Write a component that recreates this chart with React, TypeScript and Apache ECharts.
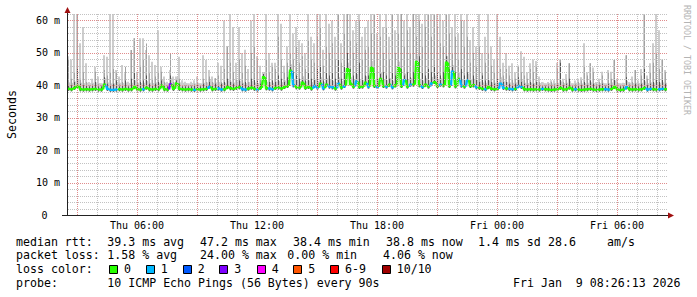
import React, { useEffect, useRef } from "react";
import * as echarts from "echarts";

// time axis in minutes after Thu 00:00
const T_START = 150;
const T_END = 1950;
const STEP = 9;
const Y_MAX = 62;

const xLabelMinutes = [360, 720, 1080, 1440, 1800];
const xLabelTexts = ["Thu 06:00", "Thu 12:00", "Thu 18:00", "Fri 00:00", "Fri 06:00"];
const yLabelValues = [0, 10, 20, 30, 40, 50, 60];
const yLabelTexts = ["0", "10 m", "20 m", "30 m", "40 m", "50 m", "60 m"];
// hour grid marks (minutes after Thu 00:00), every 3 h is a major mark
const hourMarks = [180, 240, 300, 360, 420, 480, 540, 600, 660, 720, 780, 840, 900, 960, 1020, 1080, 1140, 1200, 1260, 1320, 1380, 1440, 1500, 1560, 1620, 1680, 1740, 1800, 1860, 1920];

// top of the light smoke (ms)
const hiVals = [
  49, 48, 62, 62, 53, 58, 46.8, 41, 42, 45.7, 42.7, 40.6, 49.3, 48.8, 62, 62, 44.7, 42.7, 46.3, 43.7, 41.1, 50.9, 54.5, 44.2, 54.5, 54.5, 50.9, 49.3, 47.3, 46.3, 57, 45.7, 42.7, 41.1, 44.7, 42.7, 42.7, 48.8, 41.6, 41.1, 40.6, 41.1, 41.6, 42.7, 40.6, 49.3, 47.8, 44.7, 42.7, 42.2,
  47, 46, 60, 52, 62, 58, 47, 58, 50, 51, 45, 60, 62, 49, 46, 44, 62, 50, 47, 47, 62, 59, 46, 52, 62, 56, 58, 54, 53, 50, 62, 55, 53, 62, 62, 51, 62, 59, 60, 55, 62, 53, 62, 62, 62, 57, 60, 62, 55, 58,
  60, 62, 62, 56, 62, 58, 62, 55, 62, 57, 62, 62, 60, 62, 58, 62, 62, 62, 59, 62, 62, 62, 62, 62, 62, 60, 62, 62, 58, 62, 56, 62, 60, 62, 54, 58, 52, 62, 50, 55, 62, 52, 48, 62, 55, 47, 50, 46, 46.8, 44,
  46, 50.5, 48.8, 44, 46.8, 48, 47.5, 42.7, 41, 40.6, 41, 41.6, 41.6, 47, 48, 42, 43.5, 46.8, 40.6, 41.5, 42, 42.5, 53, 44, 46.8, 45.5, 41, 42, 44.2, 40.6, 44.7, 44.2, 47.8, 42, 40.6, 40.8, 49.3, 41, 42.7, 44.7, 41.5, 45, 62, 43, 46.8, 53, 62, 57, 48, 44.7,
];

// top of the medium smoke (ms)
const midVals = [
  47.8, 42, 44, 62, 42, 44, 41, 40, 40.5, 44.2, 40.5, 40, 44.7, 43, 44, 45, 44.2, 40.5, 41, 45.7, 40, 50.9, 54.5, 41, 46, 47.8, 52.9, 43.7, 42, 42.7, 44.2, 44.2, 41, 40, 49.9, 41, 41.6, 42, 40, 40, 40, 40, 40.5, 41, 40, 42, 41, 42.7, 41, 42.2,
  43, 41, 45, 52, 47, 44, 42, 48, 44, 46, 41, 50, 52, 48, 42, 43.5, 48, 44, 46, 45, 55, 48, 44, 47, 50, 48, 52, 47, 49, 45, 54, 48, 47, 55, 58, 46, 52, 50, 53, 48, 62, 47, 56, 62, 54, 50, 53, 60, 48, 51,
  52, 56, 62, 50, 55, 50, 58, 48, 62, 50, 56, 62, 52, 57, 50, 62, 55, 60, 52, 58, 62, 55, 62, 58, 53, 52, 62, 56, 50, 55, 48, 60, 52, 55, 47, 50, 46, 52, 44, 47, 50, 46, 44, 48, 45, 43, 45, 43, 42, 42,
  46, 44, 43, 42, 45, 44, 46, 41, 40, 40, 40.5, 41, 40.5, 45, 48, 41, 42, 46.8, 40, 40.5, 41, 41.5, 46, 43, 46.8, 44, 40.5, 41, 43, 40, 44, 42, 47.8, 41, 40, 40, 49.3, 40.5, 41, 44.7, 40.5, 43, 62, 42, 44, 47, 50, 45, 48, 44,
];

// top of the dark smoke (ms)
const darkVals = [
  40, 40, 41, 45, 40.5, 40, 39.8, 39.6, 39.8, 41, 39.6, 39.6, 42.5, 40.5, 40, 40.5, 41.5, 39.6, 40, 41.5, 39.6, 42, 44, 40, 41, 41.5, 43, 40.5, 40, 40.5, 41, 41.5, 40, 39.6, 43, 40, 41.5, 40.5, 39.6, 39.6, 39.6, 39.6, 40, 40, 39.6, 40.5, 40, 41, 40, 40.5,
  40, 40.5, 41, 42, 41, 40.5, 40, 41.5, 40.5, 41, 40, 42, 42, 41.5, 40.5, 43.5, 42, 41, 41.5, 41, 43, 42, 41, 42.5, 46, 44, 43, 42, 42, 41.5, 44, 42, 42, 45, 46, 41.5, 44, 43, 44, 42, 48, 42, 46, 50, 45, 43, 44, 47, 42, 43,
  43, 45, 44, 42, 43.5, 44, 43, 42, 44, 43, 46, 45, 43, 44, 42.5, 44, 45, 49, 44, 43, 45, 44, 46, 44, 43, 44, 49, 45, 46, 44, 42, 45, 43, 44, 41.5, 43, 42, 41, 43, 41.5, 42, 41, 40.5, 42, 40.5, 41, 41, 40.5, 40, 40.5,
  42.5, 41, 40.5, 40, 41, 40.5, 41, 39.8, 39.6, 39.6, 39.6, 39.8, 39.6, 40.5, 47, 40, 40.5, 42, 39.6, 39.6, 40, 40, 41, 40, 41.5, 40.5, 39.6, 40, 40.5, 39.6, 40.5, 40, 42, 39.8, 39.6, 39.6, 42.5, 39.6, 40, 40.5, 39.6, 40.5, 45, 40, 40.5, 41, 42, 41, 42, 40.5,
];

// median rtt (ms)
const medianVals = [
  38.9, 38.8, 39.2, 39.8, 38.8, 38.7, 38.8, 38.7, 38.8, 38.9, 38.7, 38.7, 40.2, 38.9, 38.6, 38.6, 38.7, 38.8, 38.7, 38.9, 38.7, 38.8, 39.5, 38.8, 38.7, 38.8, 39.3, 38.8, 38.7, 38.9, 38.8, 39.9, 38.8, 38.7, 40.3, 38.9, 40.6, 38.9, 38.8, 38.7, 38.8, 38.7, 38.6, 38.8, 38.7, 38.8, 38.9, 39.6, 38.8, 38.9,
  39, 38.7, 38.8, 39.5, 39.1, 38.9, 39.2, 39.4, 38.8, 38.7, 39, 39.3, 38.9, 38.7, 39.2, 42.5, 39.1, 39, 38.8, 39.2, 39.3, 39, 39.5, 39.8, 44.5, 40, 39.4, 39.3, 40.8, 39.2, 39.5, 39, 39.8, 39.3, 40.5, 39.1, 40.2, 39.6, 39.4, 39, 40.5, 39.3, 39.8, 45, 40.5, 39.6, 41.2, 39.5, 39.6, 40.8,
  39.6, 45.5, 39.8, 39.5, 42, 39.8, 39.6, 40.2, 39.4, 40, 45.3, 39.8, 41.6, 39.6, 40.2, 40.2, 47.2, 40, 39.5, 40.2, 39.6, 40.6, 41, 39.8, 40.2, 40, 47, 39.8, 44.2, 39.7, 42, 39.9, 39.6, 41.6, 39.8, 40, 39.4, 39.2, 38.9, 38.8, 39.5, 38.9, 38.8, 38.9, 40.5, 39.2, 39, 38.9, 38.8, 38.9,
  39.8, 39.5, 38.8, 38.7, 38.8, 38.7, 38.8, 38.7, 38.9, 38.8, 38.7, 38.6, 38.7, 38.8, 39.2, 38.7, 38.8, 39.3, 38.7, 38.8, 38.7, 38.6, 38.7, 38.8, 38.9, 38.7, 38.6, 38.7, 38.8, 38.8, 38.7, 38.9, 39.5, 38.7, 38.6, 38.7, 39.4, 38.8, 38.7, 38.8, 38.7, 38.8, 39.2, 38.7, 38.9, 38.8, 38.7, 38.8, 38.9, 38.8,
];

// lost pings out of 10
const lossCounts = [
  0, 0, 0, 0, 0, 0, 0, 0, 0, 0, 0, 0, 0, 1, 1, 1, 1, 0, 0, 0, 0, 0, 0, 0, 0, 1, 0, 0, 0, 0, 0, 0, 0, 0, 3, 0, 0, 0, 0, 0, 0, 0, 1, 0, 0, 0, 0, 1, 0, 0,
  1, 1, 0, 0, 0, 0, 0, 0, 1, 1, 0, 0, 0, 1, 0, 0, 0, 1, 1, 0, 0, 0, 0, 0, 0, 1, 0, 0, 0, 0, 0, 0, 1, 1, 0, 1, 0, 1, 1, 0, 1, 0, 1, 0, 0, 0, 1, 0, 0, 0,
  1, 0, 0, 1, 0, 0, 1, 0, 1, 0, 0, 0, 1, 0, 1, 0, 0, 0, 1, 0, 0, 1, 0, 0, 1, 0, 0, 0, 1, 0, 0, 1, 0, 1, 0, 0, 1, 0, 0, 1, 0, 0, 0, 0, 1, 1, 0, 1, 1, 0,
  1, 1, 0, 0, 0, 0, 0, 0, 1, 0, 0, 0, 0, 0, 0, 0, 0, 0, 0, 1, 0, 0, 0, 0, 0, 0, 0, 0, 0, 1, 1, 0, 0, 0, 0, 0, 1, 0, 0, 0, 0, 0, 0, 1, 1, 0, 0, 1, 1, 0,
];

const lossColors = ["#26ff00", "#00b8ff", "#0059ff", "#7e00ff", "#ff00ff", "#ff5500", "#ff0000", "#ff0000", "#ff0000", "#ff0000", "#a00000"];
const legendLabels = ["0", "1", "2", "3", "4", "5", "6-9", "10/10"];
const legendColors = ["#26ff00", "#00b8ff", "#0059ff", "#7e00ff", "#ff00ff", "#ff5500", "#ff0000", "#a00000"];

const rttRow = ["median rtt:", "39.3 ms avg", "47.2 ms max", "38.4 ms min", "38.8 ms now", "1.4 ms sd", "28.6", "am/s"];
const lossRow = ["packet loss:", "1.58 % avg", "24.00 % max", "0.00 % min", "4.06 % now"];
const probeRow = ["probe:", "10 ICMP Echo Pings (56 Bytes) every 90s", "Fri Jan  9 08:26:13 2026"];
const lossColorTitle = "loss color:";
const watermark = "RRDTOOL / TOBI OETIKER";

// layout (pixels)
const rttX = [16, 107.3, 200, 293, 386, 478, 548, 607];
const lossX = [16, 107.3, 200, 287.3, 383];
const probeX = [16, 107.3, 513];
const legendBoxX = [109, 145.7, 182.7, 219.3, 256.7, 293.3, 330, 381.7];
const rowY = [241.7, 255.3, 269, 282.7];

const MONO = '"DejaVu Sans Mono", monospace';
const LIGHT = "#cdcdcd";
const MID = "#a2a2a2";
const DARK = "#555555";
const RED = "#e08c8c";
const GRAY = "#c2c2c2";

// dotted line drawn as 1px stroked segments (1 on, 1 off)
const DotLine = echarts.graphic.extendShape({
  shape: { x1: 0, y1: 0, x2: 0, y2: 0 },
  buildPath(ctx: any, shape: any) {
    const dx = shape.x2 - shape.x1;
    const dy = shape.y2 - shape.y1;
    const len = Math.sqrt(dx * dx + dy * dy);
    if (len <= 0) return;
    const ux = dx / len;
    const uy = dy / len;
    for (let s = 0; s < len; s += 2) {
      const e = Math.min(s + 1, len);
      ctx.moveTo(shape.x1 + ux * s, shape.y1 + uy * s);
      ctx.lineTo(shape.x1 + ux * e, shape.y1 + uy * e);
    }
  },
});
echarts.graphic.registerShape("dotline", DotLine);

function buildOption() {
  const smokeData = hiVals.map((h, i) => [T_START + STEP * i, h, midVals[i], darkVals[i], medianVals[i]]);
  const medianData = medianVals.map((m, i) => [T_START + STEP * i, m, i > 0 ? medianVals[i - 1] : m, lossCounts[i], i]);

  // grid: horizontal every 2 ms (kind 1) and vertical every hour (kind 0)
  const gridData: number[][] = [];
  for (let v = 2; v <= Y_MAX; v += 2) gridData.push([T_START, v, 1, v % 10 === 0 ? 1 : 0, 0]);
  hourMarks.forEach((t) => gridData.push([T_START, 30, 0, t % 180 === 0 ? 1 : 0, t]));

  const legendTexts: any[] = [];
  const mkText = (text: string, x: number, y: number) => ({
    type: "text",
    x,
    y,
    silent: true,
    style: { text, font: `11.6px ${MONO}`, fill: "#000", verticalAlign: "middle", align: "left" },
  });
  rttRow.forEach((t, i) => legendTexts.push(mkText(t, rttX[i], rowY[0])));
  lossRow.forEach((t, i) => legendTexts.push(mkText(t, lossX[i], rowY[1])));
  legendTexts.push(mkText(lossColorTitle, 16, rowY[2]));
  legendLabels.forEach((t, i) => {
    legendTexts.push({
      type: "rect",
      silent: true,
      shape: { x: Math.round(legendBoxX[i]) + 0.5, y: 265.5, width: 8, height: 8 },
      style: { fill: legendColors[i], stroke: "#000", lineWidth: 1 },
    });
    legendTexts.push(mkText(t, legendBoxX[i] + 15, rowY[2]));
  });
  probeRow.forEach((t, i) => legendTexts.push(mkText(t, probeX[i], rowY[3])));

  const graphic = [
    { type: "line", silent: true, z: 20, shape: { x1: 67.5, y1: 14, x2: 67.5, y2: 9 }, style: { stroke: "#222", lineWidth: 1 } },
    { type: "line", silent: true, z: 20, shape: { x1: 62, y1: 215.5, x2: 67, y2: 215.5 }, style: { stroke: "#222", lineWidth: 1 } },
    { type: "line", silent: true, z: 20, shape: { x1: 667, y1: 215.5, x2: 670, y2: 215.5 }, style: { stroke: "#222", lineWidth: 1 } },
    { type: "polygon", silent: true, z: 20, shape: { points: [[64.5, 13], [70.5, 13], [67.5, 7]] }, style: { fill: "#a01010" } },
    { type: "polygon", silent: true, z: 20, shape: { points: [[668, 212.5], [668, 218.5], [674, 215.5]] }, style: { fill: "#a01010" } },
    {
      type: "text",
      silent: true,
      x: 687,
      y: 60,
      rotation: -Math.PI / 2,
      style: { text: watermark, font: `8.3px ${MONO}`, fill: "#b4b4b4", align: "center", verticalAlign: "middle" },
    },
    ...legendTexts,
  ];

  return {
    animation: false,
    backgroundColor: "#ffffff",
    grid: { left: 67, right: 30, top: 14, bottom: 82, containLabel: false, outerBoundsMode: "none" },
    xAxis: {
      type: "value",
      min: T_START,
      max: T_END,
      interval: 30,
      z: 10,
      axisLine: { show: true, onZero: false, lineStyle: { color: "#222", width: 1 } },
      axisTick: { show: false },
      splitLine: { show: false },
      axisLabel: {
        show: true,
        margin: 5,
        fontFamily: MONO,
        fontSize: 10,
        color: "#000",
        hideOverlap: false,
        formatter: (v: number) => {
          const k = xLabelMinutes.indexOf(Math.round(v));
          return k >= 0 ? xLabelTexts[k] : "";
        },
      },
    },
    yAxis: {
      type: "value",
      min: 0,
      max: Y_MAX,
      interval: 2,
      z: 10,
      name: "Seconds",
      nameLocation: "middle",
      nameRotate: 90,
      nameGap: 49,
      nameTextStyle: { fontFamily: MONO, fontSize: 11.6, color: "#000" },
      axisLine: { show: true, onZero: false, lineStyle: { color: "#222", width: 1 } },
      axisTick: { show: false },
      splitLine: { show: false },
      axisLabel: {
        show: true,
        margin: 7,
        fontFamily: MONO,
        fontSize: 10,
        color: "#000",
        formatter: (v: number) => {
          const k = yLabelValues.indexOf(Math.round(v));
          if (k < 0) return "";
          return k === 0 ? `{z|${yLabelTexts[k]}}` : yLabelTexts[k];
        },
        rich: { z: { padding: [0, 12.5, 0, 0], fontFamily: MONO, fontSize: 10, color: "#000" } },
      },
    },
    series: [
      {
        type: "custom",
        z: 1,
        silent: true,
        encode: { x: 0, y: 1 },
        data: smokeData,
        renderItem: (params: any, api: any) => {
          const t = api.value(0);
          const hi = api.value(1);
          const mid = api.value(2);
          const dk = api.value(3);
          const med = api.value(4);
          const xa = Math.round(api.coord([t, 0])[0]);
          const xb = Math.round(api.coord([t + STEP, 0])[0]);
          const w = xb - xa;
          const Y = (v: number) => api.coord([t, v])[1];
          const yLo = Y(med - 0.6);
          const mk = (x: number, width: number, top: number, fill: string) => {
            const yt = Y(top);
            return { type: "rect", shape: { x, y: yt, width, height: Math.max(0, yLo - yt) }, style: { fill } };
          };
          return {
            type: "group",
            children: [
              mk(xa, w, Math.min(hi, med + 2), LIGHT),
              mk(xa, 2, hi, LIGHT),
              mk(xa + 1, 1, mid, MID),
              mk(xa + 1, 1, dk, DARK),
            ],
          };
        },
      },
      {
        type: "custom",
        z: 2,
        silent: true,
        encode: { x: 0, y: 1 },
        data: medianData,
        renderItem: (params: any, api: any) => {
          const t = api.value(0);
          const med = api.value(1);
          const prev = api.value(2);
          const loss = api.value(3);
          const idx = api.value(4);
          const color = lossColors[Math.max(0, Math.min(10, loss))];
          const xa = api.coord([t, 0])[0];
          const xb = api.coord([t + STEP, 0])[0];
          const ym = api.coord([t, med])[1];
          const yp = api.coord([t, prev])[1];
          const points = idx > 0 ? [[xa, yp], [xa + 1, ym], [xb, ym]] : [[xa, ym], [xb, ym]];
          return {
            type: "polyline",
            shape: { points },
            style: { stroke: color, lineWidth: 2.4, fill: null, lineJoin: "miter" },
          };
        },
      },
      {
        type: "custom",
        z: 3,
        silent: true,
        encode: { x: 0, y: 1 },
        data: gridData,
        renderItem: (params: any, api: any) => {
          const kind = api.value(2);
          const stroke = api.value(3) === 1 ? RED : GRAY;
          if (kind === 1) {
            const v = api.value(1);
            const y = Math.round(api.coord([T_START, v])[1]) + 0.5;
            const x1 = Math.round(api.coord([T_START, v])[0]) + 1;
            const x2 = Math.round(api.coord([T_END, v])[0]);
            return { type: "dotline", shape: { x1, y1: y, x2, y2: y }, style: { stroke, lineWidth: 1, fill: null } };
          }
          const t = api.value(4);
          const pTop = api.coord([t, Y_MAX]);
          const pBot = api.coord([t, 0]);
          const x = Math.round(pBot[0]) + 0.5;
          return {
            type: "dotline",
            shape: { x1: x, y1: Math.round(pTop[1]), x2: x, y2: Math.round(pBot[1]) },
            style: { stroke, lineWidth: 1, fill: null },
          };
        },
      },
    ],
    graphic,
  };
}

export default function App() {
  const ref = useRef<HTMLDivElement>(null);
  useEffect(() => {
    document.body.style.margin = "0";
    const chart = echarts.init(ref.current!, undefined, { renderer: "svg", width: 697, height: 297 });
    chart.setOption(buildOption() as any);
    return () => chart.dispose();
  }, []);
  return <div ref={ref} style={{ width: 697, height: 297, position: "absolute", left: 0, top: 0 }} />;
}
